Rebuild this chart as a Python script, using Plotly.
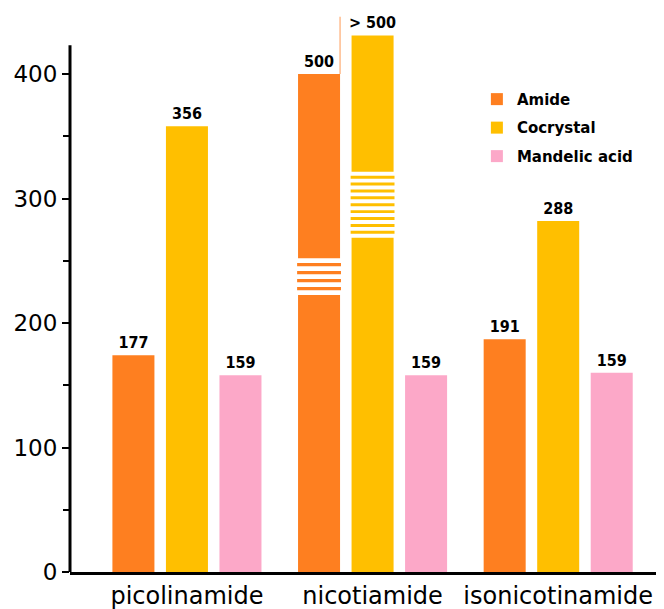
import plotly.graph_objects as go

categories = ["picolinamide", "nicotiamide", "isonicotinamide"]
series_names = ["Amide", "Cocrystal", "Mandelic acid"]
# drawn bar heights (nicotiamide bars are shown broken)
amide_heights = [174, 400, 187]
cocrystal_heights = [358, 431, 282]
mandelic_heights = [158, 158, 160]
# value labels printed above bars
amide_labels = ["177", "500", "191"]
cocrystal_labels = ["356", "> 500", "288"]
mandelic_labels = ["159", "159", "159"]
y_ticks = [0, 100, 200, 300, 400]

colors = ["#FE7F20", "#FFBF00", "#FCA8C8"]
heights = [amide_heights, cocrystal_heights, mandelic_heights]
labels = [amide_labels, cocrystal_labels, mandelic_labels]

fig = go.Figure()
for i, name in enumerate(series_names):
    fig.add_trace(go.Bar(
        x=categories, y=heights[i], name=name,
        marker=dict(color=colors[i], line=dict(width=0)),
        text=labels[i], textposition="outside", constraintext="none",
        cliponaxis=False,
        textfont=dict(family="DejaVu Sans Condensed", size=16, color="black", weight="bold"),
        legendgroup=name,
    ))

BARGAP = 0.135
BARGROUPGAP = 0.215
slot = (1 - BARGAP) / 3
bw = slot * (1 - BARGROUPGAP)

shapes = []
def breaks(cat_idx, series_idx, y_lo, y_hi, n_stripes, thick, color):
    xc = cat_idx + (series_idx - 1) * slot
    x0, x1 = xc - bw / 2 - 0.005, xc + bw / 2 + 0.005
    shapes.append(dict(type="rect", xref="x", yref="y", x0=x0, x1=x1, y0=y_lo, y1=y_hi,
                       fillcolor="white", line=dict(width=0), layer="above"))
    gap = (y_hi - y_lo - n_stripes * thick) / (n_stripes + 1)
    for k in range(n_stripes):
        s0 = y_lo + gap * (k + 1) + thick * k
        shapes.append(dict(type="rect", xref="x", yref="y", x0=x0, x1=x1, y0=s0, y1=s0 + thick,
                           fillcolor=color, line=dict(width=0), layer="above"))

breaks(1, 0, 222.5, 252, 4, 2.5, colors[0])
breaks(1, 1, 268.5, 321.5, 9, 2.4, colors[1])

# thin vertical line at the broken amide bar
xr = 1 - slot + bw / 2
shapes.append(dict(type="line", xref="x", yref="y", x0=xr, x1=xr, y0=400, y1=446,
                   line=dict(color="#FE9A55", width=1)))
# y axis line
shapes.append(dict(type="line", xref="paper", yref="y", x0=0, x1=0, y0=0, y1=423,
                   line=dict(color="black", width=3)))

# page body adds an 8px offset, so the figure is 8px smaller and margins shifted
fig.update_layout(
    width=656, height=601,
    margin=dict(l=62, r=0, t=5, b=37),
    paper_bgcolor="white", plot_bgcolor="white",
    barmode="group", bargap=BARGAP, bargroupgap=BARGROUPGAP,
    shapes=shapes,
    showlegend=True,
    legend=dict(x=0.685, y=0.875, xanchor="left", yanchor="top",
                font=dict(family="DejaVu Sans", size=15, color="black", weight="bold"),
                tracegroupgap=6, bgcolor="rgba(0,0,0,0)"),
    xaxis=dict(type="category", range=[-0.63, 2.57], showline=True, linewidth=3,
               linecolor="black", ticks="", showgrid=False, zeroline=False,
               tickfont=dict(family="DejaVu Sans", size=24, color="black")),
    yaxis=dict(range=[0, 449], tickvals=y_ticks, ticks="outside", ticklen=7, tickwidth=2,
               tickcolor="black", showline=False, showgrid=False, zeroline=False,
               tickfont=dict(family="DejaVu Sans", size=23, color="black"),
               minor=dict(dtick=50, ticks="outside", ticklen=6, tickwidth=2, tickcolor="black",
                          showgrid=False)),
)

fig.write_html("out.html")
